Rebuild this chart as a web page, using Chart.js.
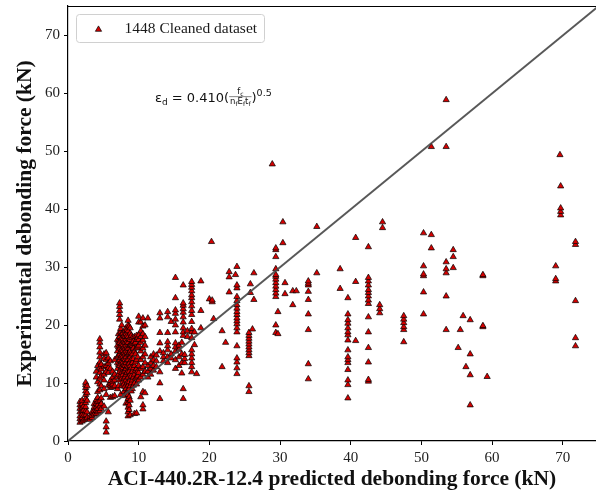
<!DOCTYPE html>
<html>
<head>
<meta charset="utf-8">
<script src="https://cdn.jsdelivr.net/npm/chart.js@4.4.1/dist/chart.umd.min.js"></script>
<style>
  html, body { margin: 0; padding: 0; background: #fff; }
  canvas { display: block; }
</style>
</head>
<body>
<canvas id="scatterChart" width="596" height="497"></canvas>
<script>
// predicted debonding force (kN) of each vertical group of specimens
const predicted = [
  1.7, 2.0, 2.2, 2.5, 2.7, 3.1, 3.4, 3.7, 4.0, 4.2, 4.5, 4.7, 5.1, 5.4, 5.7, 6.0, 6.3, 6.6,
  7.0, 7.15, 7.3, 7.45, 7.6, 7.75, 7.9, 8.05, 8.2, 8.35, 8.5, 8.65, 8.8, 8.95, 9.1, 9.25,
  9.4, 9.55, 9.7, 9.85, 10.0, 10.3, 10.6, 10.9, 11.3, 11.7, 12.1, 12.5, 13.0, 13.5, 14.1,
  14.6, 15.2, 15.7, 16.1, 16.3, 16.5, 16.9, 17.5, 17.9, 18.2, 18.8, 20.0, 20.3, 20.4, 20.6,
  21.8, 22.3, 22.8, 23.7, 23.9, 25.6, 25.8, 26.1, 26.3, 28.9, 29.4, 29.7, 30.4, 30.7, 31.8,
  32.3, 34.0, 35.2, 38.5, 39.6, 40.7, 42.5, 44.1, 44.5, 47.5, 50.3, 51.4, 53.5, 54.5, 55.2,
  55.5, 55.9, 56.3, 56.9, 58.7, 59.3, 69.0, 69.6, 69.7, 71.8
];

// experimental debonding force (kN) for each group above
const experimental = [
  [3.2, 3.8, 4.3, 5.0, 5.6, 6.2, 6.8],                 // 1.7
  [3.4, 4.0, 4.6, 5.2, 5.8, 6.4, 7.0],                 // 2.0
  [3.6, 4.4, 5.3, 6.0],                                // 2.2
  [3.8, 4.5, 5.2, 5.9, 6.6, 7.3, 8.0, 8.6, 9.2, 9.7, 10.1], // 2.5
  [4.0, 5.0, 7.0, 8.3, 9.5],                           // 2.7
  [3.7, 4.2],                                          // 3.1
  [4.0, 4.4, 5.0],                                     // 3.4
  [4.6, 5.2, 5.8, 6.4],                                // 3.7
  [4.7, 5.3, 5.9, 6.5, 7.1, 11.0, 12.0],               // 4.0
  [5.0, 5.6, 6.2, 6.8, 7.5, 8.5, 10.2, 13.0],          // 4.2
  [5.2, 6.0, 7.0, 8.8, 9.8, 10.8, 11.8, 12.6, 13.6, 14.5, 15.3, 16.2, 17.0, 17.6], // 4.5
  [5.6, 6.4, 7.4, 9.5, 11.2, 12.4, 13.2],              // 4.7
  [6.0, 9.0, 10.5, 11.5, 12.8, 14.2, 15.0],            // 5.1
  [1.5, 2.4, 3.4, 8.0, 12.0, 13.0, 14.0, 15.2],        // 5.4
  [5.0, 9.6, 11.8, 12.6, 13.4, 14.3],                  // 5.7
  [7.5, 9.2, 9.6, 10.0, 10.4, 12.5, 13.8],             // 6.0
  [7.6, 9.3, 9.8, 10.3, 11.0, 12.0],                   // 6.3
  [7.8, 9.5, 10.5, 11.5, 14.0],                        // 6.6
  [9.0, 11.0, 12.5, 13.5, 14.5, 15.5, 16.5, 17.5],     // 7.0
  [9.5, 11.5, 13.2, 14.8, 16.2, 17.2, 18.5],           // 7.15
  [10.5, 12.0, 13.0, 14.0, 15.0, 16.0, 17.0, 18.0, 21.0, 21.8, 22.5, 23.2, 23.8], // 7.3
  [8.0, 11.2, 12.4, 13.4, 14.4, 15.4, 16.4, 17.4, 18.8, 19.4], // 7.45
  [9.5, 10.8, 11.8, 12.8, 13.8, 14.8, 15.8, 16.8, 17.8, 18.5, 20.0], // 7.6
  [10.2, 11.4, 12.6, 13.6, 14.6, 15.6, 16.6, 17.6, 18.6], // 7.75
  [8.5, 9.8, 10.8, 12.0, 13.2, 14.2, 15.2, 16.2, 17.2, 18.2], // 7.9
  [7.8, 9.4, 11.0, 12.2, 13.0, 14.0, 15.0, 16.0, 17.0, 18.0, 19.0], // 8.05
  [6.5, 9.0, 10.5, 11.5, 12.5, 13.5, 14.5, 15.5, 16.5, 17.5, 18.5, 19.5], // 8.2
  [8.4, 10.0, 11.8, 13.0, 14.0, 15.2, 16.2, 17.2, 18.2, 19.2], // 8.35
  [4.3, 5.0, 5.8, 6.6, 7.3, 8.0, 8.8, 9.6, 11.0, 12.8, 14.0, 15.0, 16.0, 17.0, 18.0, 19.0, 20.0, 20.8], // 8.5
  [5.4, 6.2, 7.6, 9.0, 10.2, 12.0, 13.4, 15.2, 16.4, 17.6, 19.8], // 8.65
  [4.5, 7.0, 9.5, 11.5, 13.0, 14.5, 15.5, 16.5, 17.5, 18.6, 19.5], // 8.8
  [8.6, 10.0, 11.2, 12.6, 14.0, 15.2, 16.6, 18.2],     // 8.95
  [9.0, 10.5, 12.0, 13.5, 15.0, 16.5, 17.8],           // 9.1
  [9.6, 11.0, 12.6, 14.2, 16.0, 17.2],                 // 9.25
  [4.7, 10.0, 11.5, 13.0, 15.5, 16.8, 18.0],           // 9.4
  [10.8, 12.2, 13.6, 15.0, 17.0],                      // 9.55
  [4.8, 9.8, 11.0, 12.5, 14.0, 16.0, 17.5, 18.2],      // 9.7
  [11.2, 12.0, 14.5, 16.2, 17.8],                      // 9.85
  [10.5, 11.8, 13.0, 16.5, 17.5, 18.3, 20.5, 21.5],    // 10.0
  [7.6, 11.0, 12.5, 14.0, 15.5, 17.0, 18.0, 19.0, 20.5], // 10.3
  [5.5, 6.2, 8.5, 11.5, 12.8, 14.5, 16.0, 17.4, 18.5, 19.8, 21.2], // 10.6
  [8.3, 12.0, 13.5, 15.0, 16.5, 18.0, 20.0],           // 10.9
  [11.0, 12.0, 13.0, 21.2],                            // 11.3
  [11.5, 12.5, 13.5, 14.5],                            // 11.7
  [12.2, 13.0, 14.0, 15.0],                            // 12.1
  [12.8, 13.8, 14.8],                                  // 12.5
  [7.3, 10.0, 11.9, 15.5, 16.9, 18.7, 21.2, 22.1],     // 13.0
  [13.8, 14.5, 15.2],                                  // 13.5
  [13.5, 14.5, 15.7, 16.4, 17.1, 18.7, 21.4, 22.3],    // 14.1
  [14.3, 15.0, 20.6],                                  // 14.6
  [12.5, 14.0, 15.5, 16.2, 16.9, 18.8, 20.0, 21.0, 22.0, 22.6, 24.7, 28.2], // 15.2
  [13.0, 14.5, 15.8, 16.5],                            // 15.7
  [11.7, 13.5, 15.0, 17.0],                            // 16.1
  [7.3, 9.0, 18.2, 18.8, 19.5, 20.5, 21.4, 22.2, 22.8, 23.4, 23.8, 26.9], // 16.3
  [13.5, 14.2, 14.9],                                  // 16.5
  [18.0, 19.0],                                        // 16.9
  [11.9, 12.8, 13.5, 14.3, 15.0, 15.7, 17.8, 18.8, 19.4, 20.6, 21.8, 22.5, 23.3, 24.0, 24.7, 25.2, 25.9, 26.5, 27.0, 27.5], // 17.5
  [16.6, 18.8],                                        // 17.9
  [11.6],                                              // 18.2
  [19.5, 22.5, 27.6],                                  // 18.8
  [24.5],                                              // 20.0
  [34.4],                                              // 20.3
  [24.0, 24.3],                                        // 20.4
  [21.1],                                              // 20.6
  [12.8, 19.0],                                        // 21.8
  [17.0],                                              // 22.3
  [25.7, 28.3, 29.2],                                  // 22.8
  [28.7],                                              // 23.7
  [11.6, 12.6, 13.6, 14.3, 16.4, 18.8, 19.5, 20.2, 20.7, 21.2, 21.8, 22.3, 22.9, 23.5, 24.2, 24.9, 26.4, 26.9, 30.1], // 23.9
  [8.5, 9.5, 14.7, 15.2, 15.7, 16.2, 16.7, 17.2, 17.7, 18.2, 18.7], // 25.6
  [25.6, 27.1],                                        // 25.8
  [19.3],                                              // 26.1
  [24.4, 29.0],                                        // 26.3
  [47.8],                                              // 28.9
  [18.7, 20.0, 24.9, 25.5, 26.1, 26.7, 27.3, 27.9, 28.4, 28.7, 29.7, 31.8, 33.0, 33.3], // 29.4
  [18.5, 22.3],                                        // 29.7
  [34.2, 37.8],                                        // 30.4
  [25.4, 27.3],                                        // 30.7
  [23.5, 25.9],                                        // 31.8
  [25.9],                                              // 32.3
  [10.7, 13.3, 19.2, 21.9, 24.4, 25.8, 26.9, 27.2, 27.6], // 34.0
  [29.0, 37.0],                                        // 35.2
  [26.3, 29.7],                                        // 38.5
  [7.4, 9.7, 10.5, 12.3, 13.5, 14.0, 14.5, 15.7, 17.4, 18.3, 18.8, 19.5, 20.3, 20.9, 21.9, 24.7], // 39.6
  [17.3, 27.5, 35.1],                                  // 40.7
  [10.3, 10.6, 13.6, 16.1, 18.8, 21.4, 23.7, 24.3, 25.0, 25.6, 26.1, 26.9, 27.6, 28.2, 33.5], // 42.5
  [22.1, 22.8, 23.5],                                  // 44.1
  [36.8, 37.8],                                        // 44.5
  [17.1, 19.2, 19.7, 20.4, 21.0, 21.6],                // 47.5
  [21.9, 25.7, 28.5, 28.8, 30.2, 35.9],                // 50.3
  [33.3, 35.6, 50.8],                                  // 51.4
  [19.2, 25.0, 29.0, 29.7, 30.9, 50.8, 58.9],          // 53.5
  [29.9, 31.8, 33.0],                                  // 54.5
  [16.1],                                              // 55.2
  [19.2],                                              // 55.5
  [21.6],                                              // 55.9
  [12.8],                                              // 56.3
  [6.2, 11.4, 15.0, 20.9],                             // 56.9
  [19.7, 19.9, 28.5, 28.7],                            // 58.7
  [11.1],                                              // 59.3
  [27.6, 28.0, 30.2],                                  // 69.0
  [49.4],                                              // 69.6
  [39.0, 39.6, 40.2, 44.0],                            // 69.7
  [16.4, 17.8, 24.2, 33.9, 34.4]                       // 71.8
];

const xTicks = [0, 10, 20, 30, 40, 50, 60, 70];
const yTicks = [0, 10, 20, 30, 40, 50, 60, 70];
const parityX = [0, 76];
const parityY = [0, 76];

const legendLabel = "1448 Cleaned dataset";

const points = [];
predicted.forEach((x, i) => {
  experimental[i].forEach((y) => points.push({ x: x, y: y }));
});

function drawTriangle(ctx, x, y, r) {
  ctx.beginPath();
  ctx.moveTo(x, y - r);
  ctx.lineTo(x + r * 0.866, y + r * 0.5);
  ctx.lineTo(x - r * 0.866, y + r * 0.5);
  ctx.closePath();
  ctx.fillStyle = "#d40000";
  ctx.fill();
  ctx.lineWidth = 0.7;
  ctx.strokeStyle = "#000";
  ctx.stroke();
}

// top spine, legend box and the formula
const extras = {
  id: "extras",
  afterDraw(chart) {
    const ctx = chart.ctx;
    const area = chart.chartArea;
    ctx.save();

    ctx.beginPath();
    ctx.moveTo(area.left, area.top + 0.5);
    ctx.lineTo(area.right, area.top + 0.5);
    ctx.lineWidth = 1.2;
    ctx.strokeStyle = "#000";
    ctx.stroke();

    // legend
    const bx = area.left + 8.5, by = area.top + 8.5, bw = 188, bh = 28;
    ctx.beginPath();
    ctx.roundRect(bx, by, bw, bh, 3);
    ctx.fillStyle = "rgba(255,255,255,0.8)";
    ctx.fill();
    ctx.strokeStyle = "#d0d0d0";
    ctx.lineWidth = 1;
    ctx.stroke();
    drawTriangle(ctx, bx + 22, by + 15, 3.6);
    ctx.fillStyle = "#1a1a1a";
    ctx.font = '15.5px "Liberation Serif"';
    ctx.textBaseline = "middle";
    ctx.textAlign = "left";
    ctx.fillText(legendLabel, bx + 48, by + 14);

    // formula, anchored in data space
    const sx = chart.scales.x, sy = chart.scales.y;
    let x = sx.getPixelForValue(12.3);
    const base = sy.getPixelForValue(58.5);
    ctx.textBaseline = "alphabetic";
    ctx.fillStyle = "#111";
    const put = (txt, font, dy) => {
      ctx.font = font;
      ctx.fillText(txt, x, base + dy);
      x += ctx.measureText(txt).width;
    };
    const big = '13px "DejaVu Sans"', sub = '9px "DejaVu Sans"';
    const fr = '8.5px "DejaVu Sans"', frs = '6px "DejaVu Sans"';
    put("\u03b5", big, 0);
    put("d", sub, 3);
    put(" = 0.410(", big, 0);
    // fraction
    const fx = x;
    const denParts = [["n", fr, 0], ["f", frs, 1.5], ["E", fr, 0], ["f", frs, 1.5], ["t", fr, 0], ["f", frs, 1.5]];
    let denW = 0;
    denParts.forEach((p) => { ctx.font = p[1]; denW += ctx.measureText(p[0]).width; });
    ctx.font = fr; let numW = ctx.measureText("f").width;
    ctx.font = frs; numW += ctx.measureText("c").width;
    const fw = denW + 2;
    x = fx + (fw - numW) / 2;
    put("f", fr, -8);
    put("c", frs, -6.5);
    ctx.beginPath();
    ctx.moveTo(fx, base - 5.5);
    ctx.lineTo(fx + fw, base - 5.5);
    ctx.lineWidth = 0.5;
    ctx.strokeStyle = "#111";
    ctx.stroke();
    x = fx + 1;
    denParts.forEach((p) => put(p[0], p[1], 2 + p[2]));
    x = fx + fw;
    put(")", big, 0);
    put("0.5", '9.5px "DejaVu Sans"', -6.5);
    ctx.restore();
  }
};

const tickFont = { family: "Liberation Serif", size: 15 };
const titleFont = { family: "Liberation Serif", size: 21.5, weight: "bold" };

function noEdgePadding(s) {
  s.paddingLeft = 0;
  s.paddingRight = 0;
  s.paddingTop = 0;
  s.paddingBottom = 0;
}

new Chart(document.getElementById("scatterChart").getContext("2d"), {
  type: "scatter",
  data: {
    datasets: [
      {
        type: "line",
        data: parityX.map((x, i) => ({ x: x, y: parityY[i] })),
        borderColor: "rgba(70,70,70,0.9)",
        borderWidth: 2,
        pointRadius: 0,
        fill: false,
        showLine: true,
      },
      {
        data: points,
        pointStyle: "triangle",
        pointRadius: 3.6,
        backgroundColor: "#d40000",
        borderColor: "#000",
        borderWidth: 0.7,
      },
    ],
  },
  options: {
    responsive: false,
    animation: false,
    layout: { autoPadding: false, padding: { top: 6, right: 0, left: 0, bottom: 0 } },
    plugins: {
      legend: { display: false },
      tooltip: { enabled: false },
    },
    scales: {
      x: {
        type: "linear",
        min: 0,
        max: 74.7,
        afterBuildTicks: (s) => { s.ticks = xTicks.map((v) => ({ value: v })); },
        afterFit: (s) => { s.height = 56; noEdgePadding(s); },
        grid: { drawOnChartArea: false, drawTicks: true, tickLength: 4, color: "#000" },
        border: { display: true, color: "#000", width: 1.2 },
        ticks: { font: tickFont, color: "#222", padding: 4, maxRotation: 0 },
        title: {
          display: true,
          text: "ACI-440.2R-12.4 predicted debonding force (kN)",
          font: titleFont,
          color: "#111",
          padding: { top: 0, bottom: 5 },
        },
      },
      y: {
        type: "linear",
        min: 0,
        max: 75.1,
        afterBuildTicks: (s) => { s.ticks = yTicks.map((v) => ({ value: v })); },
        afterFit: (s) => { s.width = 68; noEdgePadding(s); },
        grid: { drawOnChartArea: false, drawTicks: true, tickLength: 4, color: "#000" },
        border: { display: true, color: "#000", width: 1.2 },
        ticks: { font: tickFont, color: "#222", padding: 4 },
        title: {
          display: true,
          text: "Experimental debonding force (kN)",
          font: titleFont,
          color: "#111",
          padding: { top: 13, bottom: 0 },
        },
      },
    },
  },
  plugins: [extras],
});
</script>
</body>
</html>
